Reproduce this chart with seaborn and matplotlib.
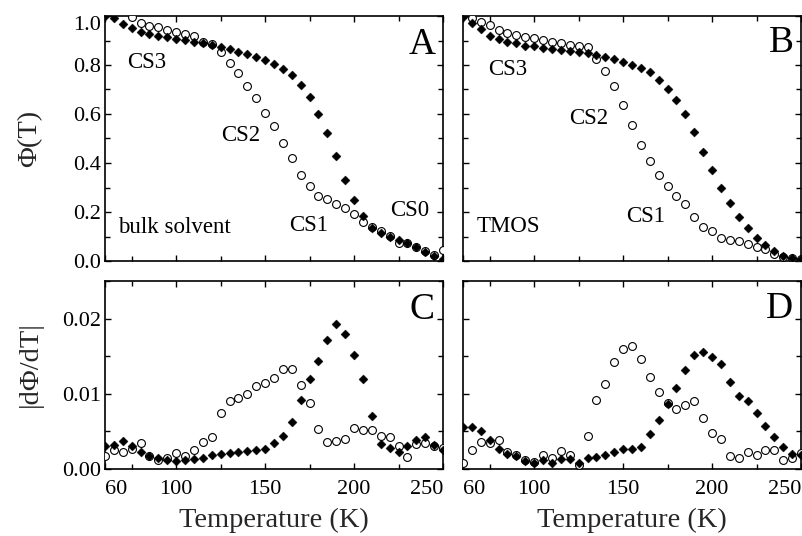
import numpy as np
import pandas as pd
import matplotlib
matplotlib.use("Agg")
import matplotlib.pyplot as plt
import seaborn as sns
from matplotlib.ticker import FixedLocator, MultipleLocator

# ---------------- data ----------------
temperature = list(range(60, 255, 5))  # K

# Panel A: bulk solvent, Phi(T)
phi_bulk_filled = [1.000, 0.990, 0.967, 0.950, 0.936, 0.927, 0.918, 0.913, 0.906, 0.902,
                   0.895, 0.888, 0.882, 0.875, 0.864, 0.854, 0.844, 0.834, 0.820, 0.805,
                   0.782, 0.759, 0.718, 0.668, 0.599, 0.524, 0.430, 0.331, 0.249, 0.184,
                   0.133, 0.113, 0.099, 0.086, 0.072, 0.056, 0.038, 0.020, 0.008]
phi_bulk_open = [1.050, 1.040, 1.030, 0.995, 0.970, 0.959, 0.954, 0.943, 0.936, 0.925,
                 0.920, 0.895, 0.885, 0.852, 0.810, 0.766, 0.714, 0.667, 0.605, 0.551,
                 0.483, 0.419, 0.351, 0.307, 0.264, 0.255, 0.231, 0.216, 0.193, 0.160,
                 0.140, 0.122, 0.103, 0.075, 0.072, 0.058, 0.040, 0.025, 0.045]

# Panel B: TMOS, Phi(T)
phi_tmos_filled = [0.995, 0.973, 0.946, 0.918, 0.905, 0.895, 0.888, 0.878, 0.878, 0.871,
                   0.865, 0.861, 0.857, 0.854, 0.848, 0.841, 0.834, 0.823, 0.811, 0.800,
                   0.786, 0.770, 0.739, 0.702, 0.657, 0.599, 0.525, 0.446, 0.371, 0.299,
                   0.235, 0.181, 0.133, 0.093, 0.065, 0.042, 0.020, 0.011, 0.007]
phi_tmos_open = [1.010, 0.990, 0.977, 0.963, 0.943, 0.929, 0.922, 0.913, 0.911, 0.902,
                 0.895, 0.891, 0.882, 0.878, 0.875, 0.823, 0.777, 0.716, 0.637, 0.555,
                 0.473, 0.409, 0.351, 0.307, 0.267, 0.231, 0.181, 0.140, 0.122, 0.093,
                 0.085, 0.080, 0.070, 0.056, 0.048, 0.030, 0.015, 0.011, 0.008]

# Panel C: bulk solvent, |dPhi/dT|
dphi_bulk_filled = [0.0031, 0.0032, 0.0037, 0.0030, 0.0022, 0.0017, 0.0014, 0.0012, 0.0011, 0.0012,
                    0.0013, 0.0015, 0.0018, 0.0020, 0.0021, 0.0022, 0.0024, 0.0025, 0.0027, 0.0035,
                    0.0044, 0.0063, 0.0092, 0.0120, 0.0144, 0.0172, 0.0193, 0.0179, 0.0151, 0.0120,
                    0.0070, 0.0033, 0.0028, 0.0023, 0.0030, 0.0039, 0.0042, 0.0032, 0.0025]
dphi_bulk_open = [0.0017, 0.0025, 0.0023, 0.0026, 0.0035, 0.0017, 0.0012, 0.0014, 0.0021, 0.0017,
                  0.0025, 0.0036, 0.0043, 0.0075, 0.0090, 0.0094, 0.0100, 0.0111, 0.0114, 0.0121,
                  0.0133, 0.0133, 0.0112, 0.0088, 0.0053, 0.0036, 0.0037, 0.0040, 0.0055, 0.0052,
                  0.0052, 0.0044, 0.0042, 0.0031, 0.0016, 0.0033, 0.0034, 0.0030, 0.0028]

# Panel D: TMOS, |dPhi/dT|
dphi_tmos_filled = [0.0056, 0.0056, 0.0050, 0.0038, 0.0026, 0.0020, 0.0017, 0.0011, 0.0008, 0.0012,
                    0.0008, 0.0013, 0.0013, 0.0008, 0.0014, 0.0016, 0.0018, 0.0022, 0.0027, 0.0027,
                    0.0029, 0.0046, 0.0065, 0.0086, 0.0108, 0.0131, 0.0151, 0.0155, 0.0149, 0.0140,
                    0.0116, 0.0097, 0.0091, 0.0075, 0.0057, 0.0043, 0.0029, 0.0020, 0.0019]
dphi_tmos_open = [0.0008, 0.0025, 0.0036, 0.0034, 0.0039, 0.0023, 0.0019, 0.0012, 0.0009, 0.0019,
                  0.0014, 0.0024, 0.0019, 0.0005, 0.0044, 0.0092, 0.0113, 0.0142, 0.0160, 0.0163,
                  0.0146, 0.0123, 0.0103, 0.0088, 0.0080, 0.0085, 0.0091, 0.0068, 0.0048, 0.0040,
                  0.0017, 0.0015, 0.0023, 0.0019, 0.0025, 0.0025, 0.0012, 0.0015, 0.0021]

x_tick_values = [60, 100, 150, 200, 250]
x_tick_labels = ["60", "100", "150", "200", "250"]
phi_ticks = [0.0, 0.2, 0.4, 0.6, 0.8, 1.0]
phi_tick_labels = ["0.0", "0.2", "0.4", "0.6", "0.8", "1.0"]
dphi_ticks = [0.00, 0.01, 0.02]
dphi_tick_labels = ["0.00", "0.01", "0.02"]

# ---------------- style ----------------
sns.set_theme(style="ticks")
plt.rcParams["font.family"] = ["Liberation Serif", "DejaVu Serif"]
plt.rcParams["axes.linewidth"] = 1.2

W, H = 803, 536
fig = plt.figure(figsize=(W / 100, H / 100), dpi=100)


def box(l, t, r, b):
    return [l / W, 1 - b / H, (r - l) / W, (b - t) / H]


axA = fig.add_axes(box(105, 16, 443, 261))
axB = fig.add_axes(box(463, 16, 801, 261))
axC = fig.add_axes(box(105, 281, 443, 469))
axD = fig.add_axes(box(463, 281, 801, 469))

panels = [
    (axA, phi_bulk_filled, phi_bulk_open, "phi"),
    (axB, phi_tmos_filled, phi_tmos_open, "phi"),
    (axC, dphi_bulk_filled, dphi_bulk_open, "dphi"),
    (axD, dphi_tmos_filled, dphi_tmos_open, "dphi"),
]

for ax, filled, hollow, kind in panels:
    df = pd.DataFrame({"T": temperature, "filled": filled, "open": hollow})
    sns.scatterplot(data=df, x="T", y="open", marker="o", s=32, color="white",
                    edgecolor="black", linewidth=0.8, ax=ax, zorder=3)
    sns.scatterplot(data=df, x="T", y="filled", marker="D", s=21, color="black",
                    edgecolor="black", linewidth=0.3, ax=ax, zorder=4)
    ax.set_xlim(60, 250)
    ax.xaxis.set_major_locator(FixedLocator(x_tick_values))
    ax.xaxis.set_minor_locator(FixedLocator([75, 125, 175, 225]))
    if kind == "phi":
        ax.set_ylim(0, 1.0)
        ax.yaxis.set_major_locator(FixedLocator(phi_ticks))
        ax.yaxis.set_minor_locator(MultipleLocator(0.1))
    else:
        ax.set_ylim(0, 0.025)
        ax.yaxis.set_major_locator(FixedLocator(dphi_ticks))
        ax.yaxis.set_minor_locator(MultipleLocator(0.005))
    ax.tick_params(which="both", direction="in", top=True, right=True,
                   width=1.0, labelsize=16, pad=3, colors="black")
    ax.tick_params(which="major", length=4.5)
    ax.tick_params(which="minor", length=3.5)
    ax.tick_params(axis="x", pad=8)
    ax.set_xlabel("")
    ax.set_ylabel("")
    for sp in ax.spines.values():
        sp.set_color("black")

# tick labels
axA.set_yticklabels(phi_tick_labels)
axC.set_yticklabels(dphi_tick_labels)
for ax in (axC, axD):
    ax.set_xticklabels(x_tick_labels)
    labs = ax.get_xticklabels()
    labs[0].set_horizontalalignment("left")
    labs[-1].set_horizontalalignment("right")
for ax in (axA, axB):
    ax.tick_params(axis="x", labelbottom=False)
for ax in (axB, axD):
    ax.tick_params(axis="y", labelleft=False)
ylabs = axA.get_yticklabels()
ylabs[-1].set_verticalalignment("top")

# axis labels
axA.set_ylabel("Φ(T)", fontsize=20.5)
axC.set_ylabel("|dΦ/dT|", fontsize=20.5)
axA.yaxis.set_label_coords(-0.185, 0.5)
axC.yaxis.set_label_coords(-0.185, 0.56)
for ax in (axC, axD):
    ax.set_xlabel("Temperature (K)", fontsize=20.5, labelpad=6)

# annotations
txt = dict(fontsize=16.5, color="black")
axA.text(72.7, 0.81, "CS3", va="center", ha="left", **txt)
axA.text(125.2, 0.514, "CS2", va="center", ha="left", **txt)
axA.text(163.5, 0.143, "CS1", va="center", ha="left", **txt)
axA.text(220.4, 0.205, "CS0", va="center", ha="left", **txt)
axA.text(67.3, 0.135, "bulk solvent", va="center", ha="left", **txt)
axB.text(74.2, 0.78, "CS3", va="center", ha="left", **txt)
axB.text(119.6, 0.582, "CS2", va="center", ha="left", **txt)
axB.text(151.7, 0.181, "CS1", va="center", ha="left", **txt)
axB.text(67.7, 0.14, "TMOS", va="center", ha="left", **txt)

big = dict(fontsize=27, color="black", ha="right", va="center")
axA.text(246, 0.884, "A", **big)
axB.text(246, 0.889, "B", **big)
axC.text(245, 0.0212, "C", **big)
axD.text(245.5, 0.0213, "D", **big)

fig.savefig("out.png", dpi=100, facecolor="white")
